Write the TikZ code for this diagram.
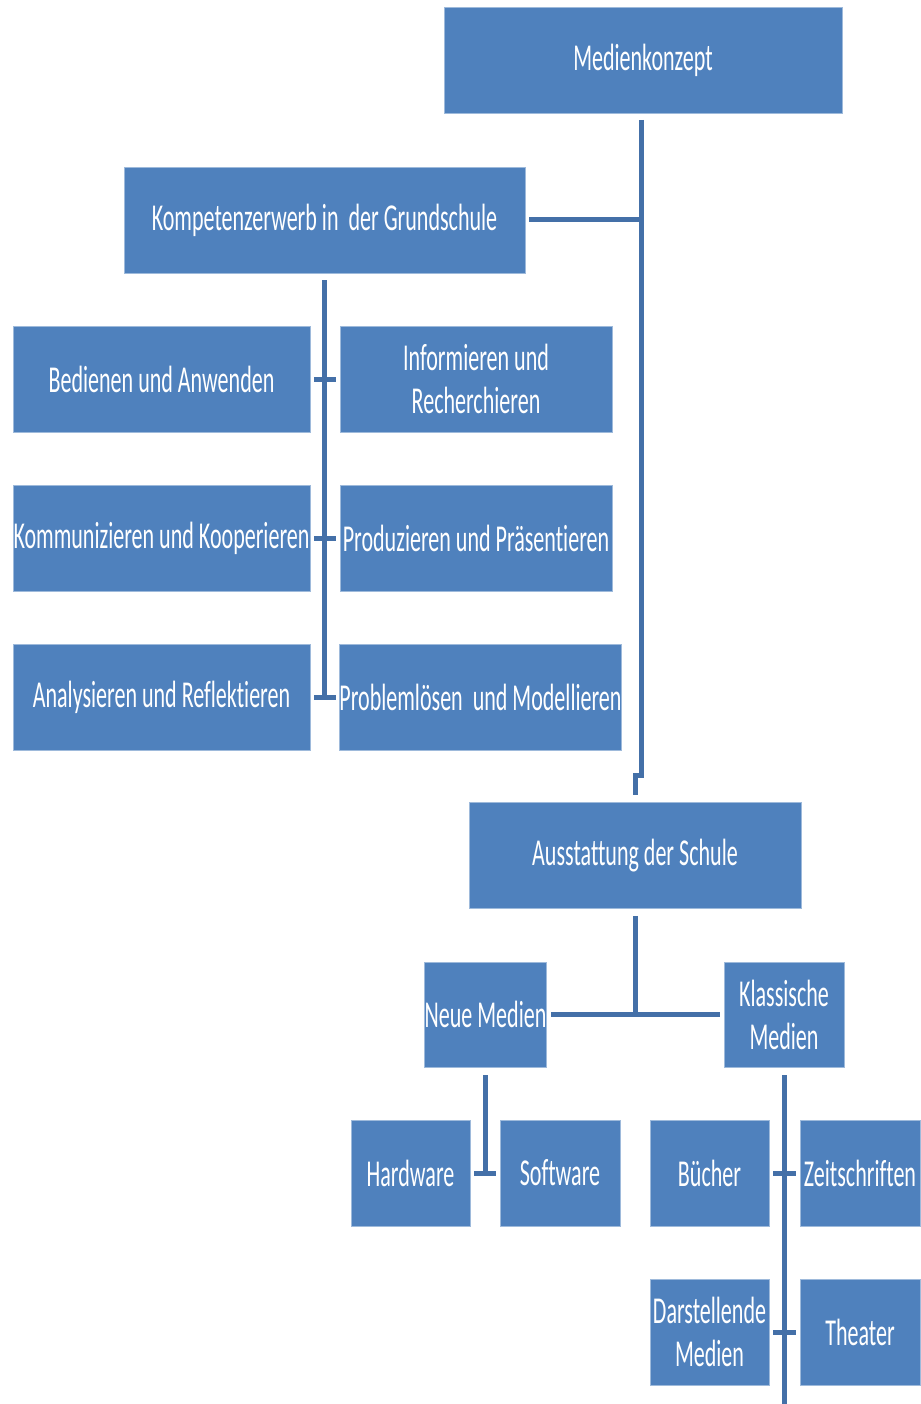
\documentclass[tikz,border=0pt]{standalone}
\usepackage{fontspec}
\setmainfont[FakeStretch=0.58,Ligatures=NoCommon]{Carlito}
\usetikzlibrary{positioning}
\definecolor{box blue}{RGB}{79,129,189}
\definecolor{line blue}{RGB}{68,112,168}

\tikzset{
  box/.style={fill=box blue, draw=box blue!55!white, line width=0.8pt,
    text=white, inner sep=0pt, align=center, minimum height=106,
    font=\fontsize{38}{43}\selectfont},
  conn/.style={draw=line blue, line width=5pt}
}

\begin{document}
\begin{tikzpicture}[x=1pt,y=-1pt]
			\useasboundingbox (0,0) rectangle (920,1404);
			% top level
			\node[box, minimum width=398] (medien) at (643,60.5) {Medienkonzept};
			\node[box, minimum width=401] (kompetenz) at (324.5,220) {Kompetenzerwerb in\ \ der Grundschule};
			\node[box, minimum width=332] (ausstattung) at (635,855.5) {Ausstattung der Schule};
			% competences
			\node[box, minimum width=297] (bedienen) at (161.5,379) {Bedienen und Anwenden};
			\node[box, minimum width=272] (informieren) at (476,379) {Informieren und\\Recherchieren};
			\node[box, minimum width=297] (kommunizieren) at (161.5,538) {Kommunizieren und Kooperieren};
			\node[box, minimum width=272] (produzieren) at (476,538) {Produzieren und Präsentieren};
			\node[box, minimum width=297] (analysieren) at (161.5,697) {Analysieren und Reflektieren};
			\node[box, minimum width=281] (probleme) at (480.5,697) {Problemlösen\ \ und Modellieren};
			% equipment
			\node[box, minimum width=119, minimum height=105] (neue) at (485.5,1014.5) {Neue Medien};
			\node[box, minimum width=120, minimum height=105] (klassisch) at (784,1014.5) {Klassische\\Medien};
			\node[box, minimum width=119] (hardware) at (410.5,1173) {Hardware};
			\node[box, minimum width=120] (software) at (560,1173) {Software};
			\node[box, minimum width=119] (buecher) at (709.5,1173) {Bücher};
			\node[box, minimum width=120] (zeitschriften) at (860,1173) {Zeitschriften};
			\node[box, minimum width=119] (darstellende) at (709.5,1332) {Darstellende\\Medien};
			\node[box, minimum width=120] (theater) at (860,1332) {Theater};
			% connectors
			\coordinate (trunk top) at (641,120);
			\coordinate (trunk jog) at (641,775);
			\coordinate (klassisch end) at (784,1404);
			\draw[conn] (trunk top) -- (trunk jog) -| ([yshift=7pt]ausstattung.north);
			\draw[conn] ([xshift=4pt]kompetenz.east) -- (kompetenz.east -| trunk top);
			\draw[conn] ([yshift=-7pt]kompetenz.south) -- (kompetenz.south |- analysieren.east);
			\draw[conn] ([xshift=4pt]bedienen.east) -- ([xshift=-4pt]informieren.west);
			\draw[conn] ([xshift=4pt]kommunizieren.east) -- ([xshift=-4pt]produzieren.west);
			\draw[conn] ([xshift=4pt]analysieren.east) -- ([xshift=26pt]analysieren.east);
			\draw[conn] ([yshift=-7pt]ausstattung.south) -- (ausstattung.south |- neue.east);
			\draw[conn] ([xshift=4pt]neue.east) -- ([xshift=-4pt]klassisch.west);
			\draw[conn] ([yshift=-8pt]neue.south) -- (neue.south |- hardware.east);
			\draw[conn] ([xshift=4pt]hardware.east) -- ([xshift=-4pt]software.west);
			\draw[conn] ([yshift=-8pt]klassisch.south) -- (klassisch end);
			\draw[conn] ([xshift=4pt]buecher.east) -- ([xshift=-4pt]zeitschriften.west);
			\draw[conn] ([xshift=4pt]darstellende.east) -- ([xshift=-4pt]theater.west);
\end{tikzpicture}
\end{document}
